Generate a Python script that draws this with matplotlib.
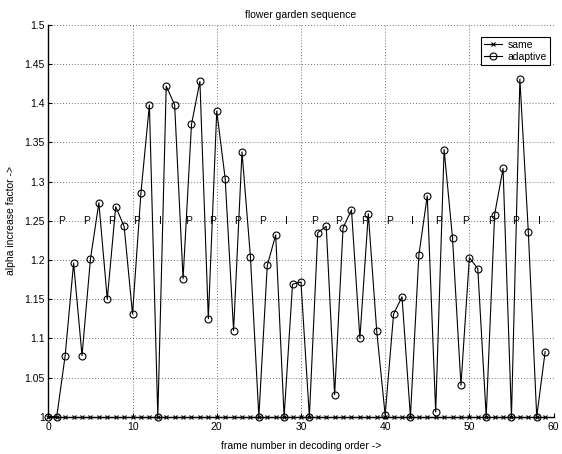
import matplotlib
matplotlib.use("Agg")
import matplotlib.pyplot as plt
from matplotlib.ticker import FormatStrFormatter

plt.rcParams['font.family'] = ['Liberation Sans', 'DejaVu Sans']

# frame index in decoding order
frames = list(range(60))

# "same" alpha stays at 1 for every frame
same = [1.0] * 60

# adaptive alpha increase factor
adaptive = [
    1.000, 1.000, 1.078, 1.196, 1.078, 1.201, 1.273, 1.150, 1.268, 1.243,
    1.131, 1.286, 1.398, 1.000, 1.422, 1.398, 1.176, 1.373, 1.428, 1.125,
    1.390, 1.304, 1.110, 1.338, 1.204, 1.000, 1.193, 1.232, 1.000, 1.169,
    1.172, 1.000, 1.235, 1.243, 1.028, 1.241, 1.264, 1.100, 1.259, 1.109,
    1.002, 1.131, 1.153, 1.000, 1.206, 1.282, 1.006, 1.341, 1.228, 1.040,
    1.203, 1.189, 1.000, 1.258, 1.317, 1.000, 1.431, 1.236, 1.000, 1.083,
]

# picture type labels written along the 1.25 line
type_labels = ['P', 'P', 'P', 'P', 'I'] * 4
type_x = [1.6, 4.5, 7.5, 10.5, 13.3, 16.6, 19.5, 22.5, 25.4, 28.3,
          31.6, 34.5, 37.6, 40.5, 43.2, 46.4, 49.5, 52.6, 55.5, 58.3]
type_y = 1.25

x_ticks = [0, 10, 20, 30, 40, 50, 60]
y_ticks = [1.0, 1.05, 1.1, 1.15, 1.2, 1.25, 1.3, 1.35, 1.4, 1.45, 1.5]

fig = plt.figure(figsize=(5.62, 4.54), dpi=100)
ax = fig.add_axes([0.086, 0.0822, 0.899, 0.8628])

ax.plot(frames, same, color='black', linewidth=0.8, marker='x',
        markersize=3.5, markeredgewidth=0.8, label='same', clip_on=False, zorder=3)
ax.plot(frames, adaptive, color='black', linewidth=0.8, marker='o',
        markersize=5, markerfacecolor='none', markeredgewidth=0.8,
        label='adaptive', clip_on=False, zorder=4)

for lx, lab in zip(type_x, type_labels):
    ax.text(lx, type_y, lab, ha='center', va='center', fontsize=7.5)

ax.set_xlim(0, 60)
ax.set_ylim(1.0, 1.5)
ax.set_xticks(x_ticks)
ax.set_yticks(y_ticks)
ax.yaxis.set_major_formatter(FormatStrFormatter('%g'))
ax.tick_params(direction='in', length=3, width=0.8, labelsize=7.5, pad=4)
ax.tick_params(axis='y', pad=2.5)

ax.grid(True, color='0.25', linestyle=(0, (1, 2.5)), linewidth=0.6)
ax.set_axisbelow(True)
ax.spines['top'].set_visible(False)
ax.spines['right'].set_visible(False)
ax.spines['left'].set_linewidth(1.0)
ax.spines['bottom'].set_linewidth(1.0)

ax.set_title('flower garden sequence', fontsize=7.5, y=0.997)
ax.set_xlabel('frame number in decoding order ->', fontsize=7.5)
ax.set_ylabel('alpha increase factor ->', fontsize=7.5)
ax.xaxis.set_label_coords(0.5, -0.062)
ax.yaxis.set_label_coords(-0.064, 0.5)

leg = ax.legend(loc='upper right', bbox_to_anchor=(0.9925, 0.97), fontsize=7.5,
                frameon=True, fancybox=False, handlelength=1.7,
                borderpad=0.3, labelspacing=0.2, handletextpad=0.5,
                borderaxespad=0)
leg.get_frame().set_edgecolor('black')
leg.get_frame().set_linewidth(0.8)
leg.get_frame().set_alpha(1)

fig.savefig('out.png', dpi=100)
